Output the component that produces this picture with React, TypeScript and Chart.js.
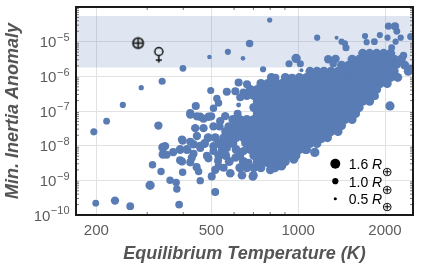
import React, { useEffect, useRef } from "react";
import { Chart, registerables } from "chart.js";

Chart.register(...registerables);

// ---------------- data ----------------
const X_MIN = 170;
const X_MAX = 2500;
const Y_MIN = 1e-10;
const Y_MAX = 1e-4;

const xTickValues = [200, 500, 1000, 2000];
const xMinorTickValues = [300, 400, 600, 700, 800, 900];
const yTickExponents = [-10, -9, -8, -7, -6, -5];

const shadedBand = [1.8e-6, 5.5e-5];

const earthPoint = [279, 9.1e-6];
const venusPoint = [329, 4.1e-6];

const legendRadii = [1.6, 1.0, 0.5];
const legendLabels = ["1.6", "1.0", "0.5"];

const cloudRadius = 1.45; // R_earth, typical planet in dense cloud

// [equilibrium temperature K, min. inertia anomaly, radius R_earth]
const planets: [number, number, number][] = [
  [399, 1.7e-6, 1.1], [338, 7.2e-7, 1.15], [286, 4.7e-7, 0.85], [247, 1.5e-7, 1.0],
  [217, 5.1e-8, 1.1], [196, 2.5e-8, 1.15], [328, 3.8e-8, 1.35], [340, 8.9e-9, 1.5],
  [340, 5.6e-9, 1.4], [313, 2.8e-9, 1.2], [335, 1.8e-9, 1.2], [307, 7.2e-10, 1.5],
  [199, 2.2e-10, 1.1], [232, 2.6e-10, 1.35], [262, 1.8e-10, 1.25], [387, 2.0e-10, 1.25],
  [360, 1.0e-9, 1.2], [378, 8.7e-10, 1.2], [380, 5.6e-10, 1.2], [458, 9.8e-10, 1.2],
  [398, 1.7e-9, 1.2], [516, 4.6e-10, 1.3], [502, 1.3e-9, 1.3], [452, 1.8e-9, 1.2],
  [516, 2.0e-9, 1.3], [582, 1.6e-9, 1.4], [639, 1.4e-9, 1.4], [530, 2.5e-9, 1.3],
  [489, 4.3e-9, 1.3], [552, 2.3e-9, 1.3], [697, 1.3e-9, 1.4], [528, 3.7e-9, 1.3],
  [875, 2.6e-9, 1.5], [786, 3.2e-9, 1.4], [1142, 6.4e-9, 1.5], [1205, 1.6e-8, 1.4],
  [398, 1.4e-8, 1.35], [369, 6.5e-9, 1.3], [396, 3.5e-9, 1.3], [423, 3.3e-9, 1.3],
  [434, 5.8e-9, 1.3], [445, 2.4e-9, 1.3], [458, 1.0e-8, 1.3], [483, 5.1e-9, 1.3],
  [423, 1.3e-8, 1.3], [350, 5.5e-9, 1.3], [390, 3.8e-9, 1.3], [428, 4.5e-9, 1.3],
  [458, 8.6e-9, 1.3], [509, 7.0e-9, 1.3], [566, 8.6e-9, 1.3], [606, 4.5e-9, 1.3],
  [647, 7.0e-9, 1.3], [673, 3.2e-9, 1.3], [498, 3.9e-7, 1.15], [442, 1.4e-7, 1.3],
  [523, 2.3e-7, 1.2], [530, 1.7e-7, 1.2], [509, 1.2e-7, 1.2], [566, 3.6e-7, 1.3],
  [606, 3.7e-7, 1.3], [622, 6.6e-7, 1.3], [647, 3.4e-7, 1.3], [630, 2.5e-7, 1.3],
  [665, 5.9e-7, 1.3], [622, 1.5e-7, 0.8], [617, 8.3e-8, 1.3], [423, 7.9e-8, 1.35],
  [458, 6.8e-8, 1.35], [489, 6.8e-8, 1.35], [440, 3.2e-8, 1.35], [470, 3.2e-8, 1.35],
  [509, 3.6e-8, 1.35], [537, 5.1e-8, 1.35], [559, 7.1e-8, 1.35], [574, 3.6e-8, 1.35],
  [534, 3.6e-8, 1.35], [446, 1.9e-8, 1.35], [396, 1.5e-8, 1.35], [434, 1.1e-8, 1.35],
  [346, 9.7e-9, 1.35], [551, 1.7e-8, 1.35], [589, 1.3e-8, 1.35], [639, 2.1e-8, 1.35],
  [656, 1.2e-8, 1.35], [509, 9.7e-9, 1.35], [493, 3.6e-6, 0.75], [571, 5.1e-6, 1.0],
  [644, 3.3e-6, 0.75], [679, 8.9e-6, 1.2], [797, 4.2e-5, 0.85], [756, 1.6e-6, 1.0],
  [930, 2.3e-6, 1.15], [984, 3.3e-6, 1.5], [1018, 2.3e-6, 1.15], [1027, 1.5e-6, 0.65],
  [1164, 1.3e-5, 1.0], [1271, 3.1e-6, 1.35], [1348, 3.2e-6, 1.35], [1323, 2.3e-6, 1.2],
  [1359, 1.3e-5, 0.65], [1414, 1.0e-5, 1.0], [1465, 6.7e-6, 1.15], [1452, 8.9e-6, 1.0],
  [1705, 1.45e-5, 1.0], [1727, 9.7e-6, 1.0], [1837, 1.0e-5, 1.1], [1919, 1.55e-5, 1.0],
  [2055, 2.8e-5, 1.15], [2166, 2.8e-5, 1.3], [2197, 2.0e-5, 1.1], [2040, 1.3e-5, 1.0],
  [2267, 1.3e-5, 1.0], [2176, 1.0e-5, 1.0], [2458, 1.4e-5, 1.2], [2109, 6.7e-6, 1.1],
  [2317, 4.0e-6, 1.2], [2197, 2.2e-6, 1.35], [2461, 1.65e-6, 1.35], [1313, 1.3e-6, 1.3],
  [1228, 1.4e-6, 1.3], [1164, 1.0e-6, 1.3], [834, 9.1e-7, 1.3], [953, 9.1e-7, 1.3],
  [1845, 2.7e-7, 1.3], [2080, 1.4e-7, 1.5], [700, 1.4e-9, 1.4], [801, 2.0e-9, 1.4],
  [880, 2.8e-9, 1.4], [966, 4.0e-9, 1.4], [1060, 7.7e-9, 1.4], [423, 8.8e-8, 1.3],
  [446, 7.0e-8, 1.3], [470, 6.0e-8, 1.3], [500, 7.0e-8, 1.3],
];

// dense cloud, read row by row: [min. inertia anomaly, temperatures K]
const cloudRows: [number, number[]][] = [
  [4.6e-6, [1673, 1769, 1871, 1979, 2093]],
  [3.1e-6, [1538, 1627, 1720, 1819, 1924, 2035, 2152, 2276]],
  [2.1e-6, [1414, 1496, 1582, 1673, 1769, 1871, 1979, 2093, 2341]],
  [1.4e-6, [1099, 1162, 1229, 1300, 1375, 1454, 1538, 1627, 1720, 1819, 1924, 2035, 2152, 2408]],
  [9.3e-7, [808, 903, 1010, 1069, 1130, 1195, 1264, 1337, 1414, 1496, 1582, 1673, 1769, 1871, 1979, 2093, 2213]],
  [6.2e-7, [743, 785, 831, 878, 929, 983, 1039, 1099, 1162, 1229, 1300, 1375, 1454, 1538, 1627, 1720, 1819, 1924, 2035]],
  [4.2e-7, [683, 722, 764, 808, 854, 903, 955, 1010, 1069, 1130, 1195, 1264, 1337, 1414, 1496, 1582, 1673, 1769, 1871]],
  [2.8e-7, [664, 702, 743, 785, 831, 878, 929, 983, 1039, 1099, 1162, 1229, 1300, 1375, 1454, 1538, 1627, 1720, 1819]],
  [1.9e-7, [722, 764, 808, 854, 903, 955, 1010, 1069, 1130, 1195, 1264, 1337, 1414, 1496, 1582, 1673, 1769]],
  [1.26e-7, [702, 743, 785, 831, 878, 929, 983, 1039, 1099, 1162, 1229, 1300, 1375, 1454, 1538, 1627]],
  [8.5e-8, [722, 764, 808, 854, 903, 955, 1010, 1069, 1130, 1195, 1264, 1337, 1414, 1496, 1582]],
  [5.7e-8, [594, 628, 664, 702, 743, 785, 831, 878, 929, 983, 1039, 1099, 1162, 1229, 1300, 1375, 1454, 1538]],
  [3.8e-8, [610, 646, 683, 722, 764, 808, 854, 903, 955, 1010, 1069, 1130, 1195, 1264, 1337, 1414]],
  [2.56e-8, [561, 594, 628, 664, 702, 743, 785, 831, 878, 929, 983, 1039, 1099, 1162, 1229, 1300, 1375]],
  [1.7e-8, [488, 516, 577, 610, 646, 683, 722, 764, 808, 854, 903, 955, 1010, 1069, 1130, 1195, 1264]],
  [1.15e-8, [474, 531, 561, 594, 664, 702, 743, 785, 831, 878, 929, 983, 1039, 1099, 1162]],
  [7.7e-9, [390, 412, 546, 610, 683, 722, 764, 808, 854, 903, 955, 1010, 1069]],
  [5.2e-9, [531, 561, 628, 702, 743, 785, 831, 878, 929, 983]],
  [3.5e-9, [577, 646, 722, 764, 808, 854, 903]],
  [2.3e-9, [628, 664, 702, 743, 831]],
];

// ---------------- styling ----------------
const PX_PER_RE = 3.1;
const POINT_COLOR = "rgb(89,124,181)";
const FONT = "'Liberation Sans', Arial, sans-serif";

function makeEarthGlyph(): HTMLCanvasElement {
  const c = document.createElement("canvas");
  c.width = 15;
  c.height = 15;
  const g = c.getContext("2d")!;
  g.strokeStyle = "#111";
  g.lineWidth = 1.6;
  g.beginPath();
  g.arc(7.5, 7.5, 5.2, 0, Math.PI * 2);
  g.stroke();
  g.beginPath();
  g.moveTo(7.5, 2.3);
  g.lineTo(7.5, 12.7);
  g.moveTo(2.3, 7.5);
  g.lineTo(12.7, 7.5);
  g.stroke();
  return c;
}

function makeVenusGlyph(): HTMLCanvasElement {
  const c = document.createElement("canvas");
  c.width = 14;
  c.height = 20;
  const g = c.getContext("2d")!;
  g.strokeStyle = "#111";
  g.lineWidth = 1.5;
  g.beginPath();
  g.arc(7, 6.5, 4, 0, Math.PI * 2);
  g.stroke();
  g.beginPath();
  g.moveTo(7, 10.5);
  g.lineTo(7, 17.5);
  g.moveTo(4, 15);
  g.lineTo(10, 15);
  g.stroke();
  return c;
}

const decorPlugin = {
  id: "decor",
  beforeDatasetsDraw(chart: any) {
    const { ctx, chartArea: ca, scales } = chart;
    const y = scales.y;
    const yTop = y.getPixelForValue(shadedBand[1]);
    const yBot = y.getPixelForValue(shadedBand[0]);
    ctx.save();
    ctx.fillStyle = "rgba(76,114,176,0.18)";
    ctx.fillRect(ca.left, yTop, ca.right - ca.left, yBot - yTop);
    ctx.restore();
  },
  afterDatasetsDraw(chart: any) {
    const { ctx, chartArea: ca, scales } = chart;
    ctx.save();
    // minor ticks
    ctx.strokeStyle = "#555";
    ctx.lineWidth = 0.8;
    ctx.beginPath();
    xMinorTickValues.forEach((v) => {
      const px = scales.x.getPixelForValue(v);
      ctx.moveTo(px, ca.bottom);
      ctx.lineTo(px, ca.bottom - 3);
      ctx.moveTo(px, ca.top);
      ctx.lineTo(px, ca.top + 3);
    });
    yTickExponents.forEach((e) => {
      for (let k = 2; k <= 9; k++) {
        const py = scales.y.getPixelForValue(k * Math.pow(10, e));
        if (py < ca.top) continue;
        ctx.moveTo(ca.left, py);
        ctx.lineTo(ca.left + 3, py);
        ctx.moveTo(ca.right, py);
        ctx.lineTo(ca.right - 3, py);
      }
    });
    ctx.stroke();
    // frame
    ctx.strokeStyle = "#1a1a1a";
    ctx.lineWidth = 2;
    ctx.strokeRect(ca.left, ca.top, ca.right - ca.left, ca.bottom - ca.top);
    ctx.restore();
  },
  afterDraw(chart: any) {
    const { ctx, chartArea: ca, scales } = chart;
    ctx.save();
    // y tick labels: 10^e
    ctx.fillStyle = "#5c5c5c";
    ctx.textBaseline = "middle";
    ctx.textAlign = "left";
    const right = ca.left - 7;
    yTickExponents.forEach((e) => {
      const py = scales.y.getPixelForValue(Math.pow(10, e));
      const sup = "\u2212" + String(Math.abs(e));
      ctx.font = `15px ${FONT}`;
      const wBase = ctx.measureText("10").width;
      ctx.font = `11px ${FONT}`;
      const wSup = ctx.measureText(sup).width;
      const x0 = right - wBase - wSup;
      ctx.font = `15px ${FONT}`;
      ctx.fillText("10", x0, py + 1.5);
      ctx.font = `11px ${FONT}`;
      ctx.fillText(sup, x0 + wBase + 0.5, py - 3.8);
    });
    // size legend
    ctx.fillStyle = "#000";
    legendRadii.forEach((r, i) => {
      const cx = ca.right - 77.7;
      const cy = ca.bottom - 51.3 + i * 17.5;
      ctx.beginPath();
      ctx.arc(cx, cy, r * PX_PER_RE, 0, Math.PI * 2);
      ctx.fill();
      let tx = cx + 13.4;
      const label = legendLabels[i] + " ";
      ctx.font = `14px ${FONT}`;
      ctx.fillText(label, tx, cy + 1.5);
      tx += ctx.measureText(label).width;
      ctx.font = `italic 14px ${FONT}`;
      ctx.fillText("R", tx, cy + 1.5);
      tx += ctx.measureText("R").width;
      ctx.font = `13px 'DejaVu Sans', sans-serif`;
      ctx.fillText("\u2295", tx - 0.5, cy + 9);
    });
    ctx.restore();
  },
};

export default function App() {
  const ref = useRef<HTMLCanvasElement>(null);

  useEffect(() => {
    const canvas = ref.current;
    if (!canvas) return;

    const points: { x: number; y: number }[] = [];
    const radii: number[] = [];
    cloudRows.forEach(([anom, temps]) => {
      temps.forEach((t) => {
        points.push({ x: t, y: anom });
        radii.push(cloudRadius * PX_PER_RE);
      });
    });
    planets.forEach(([t, anom, r]) => {
      points.push({ x: t, y: anom });
      radii.push(r * PX_PER_RE);
    });

    const chart = new Chart(canvas, {
      type: "scatter",
      data: {
        datasets: [
          {
            label: "planets",
            data: points,
            backgroundColor: POINT_COLOR,
            borderWidth: 0,
            pointRadius: radii,
            pointHoverRadius: radii,
          },
          {
            label: "Earth",
            data: [{ x: earthPoint[0], y: earthPoint[1] }],
            pointStyle: makeEarthGlyph() as any,
            pointRadius: 6,
          },
          {
            label: "Venus",
            data: [{ x: venusPoint[0], y: venusPoint[1] }],
            pointStyle: makeVenusGlyph() as any,
            pointRadius: 6,
          },
        ],
      },
      options: {
        responsive: false,
        animation: false,
        events: [],
        layout: { padding: { top: 7, right: 9, left: 0, bottom: 0 } },
        plugins: {
          legend: { display: false },
          tooltip: { enabled: false },
        },
        scales: {
          x: {
            type: "logarithmic",
            position: "bottom",
            min: X_MIN,
            max: X_MAX,
            afterBuildTicks: (s: any) => {
              s.ticks = xTickValues.map((v) => ({ value: v }));
            },
            afterFit: (s: any) => {
              s.height = 57;
            },
            grid: { color: "#e2e2e2", lineWidth: 1, drawTicks: false },
            border: { display: false },
            ticks: {
              padding: 7,
              color: "#5c5c5c",
              font: { family: FONT, size: 15 },
              maxRotation: 0,
              autoSkip: false,
              callback: (v: any) => String(v),
            },
            title: {
              display: true,
              text: "Equilibrium Temperature (K)",
              color: "#555",
              font: { family: FONT, size: 18, weight: "bold", style: "italic" },
              padding: { top: 0, bottom: 7 },
            },
          },
          y: {
            type: "logarithmic",
            min: Y_MIN,
            max: Y_MAX,
            afterBuildTicks: (s: any) => {
              s.ticks = yTickExponents.map((e) => ({ value: Math.pow(10, e) }));
            },
            afterFit: (s: any) => {
              s.width = 76;
            },
            grid: { color: "#e2e2e2", lineWidth: 1, drawTicks: false },
            border: { display: false },
            ticks: { display: false },
            title: {
              display: true,
              text: "Min. Inertia Anomaly",
              color: "#555",
              font: { family: FONT, size: 18, weight: "bold", style: "italic" },
              padding: { top: 2, bottom: 0 },
            },
          },
        },
      } as any,
      plugins: [decorPlugin],
    });

    return () => chart.destroy();
  }, []);

  return (
    <div style={{ position: "fixed", left: 0, top: 0, width: 422, height: 272, background: "#fff" }}>
      <canvas ref={ref} width={422} height={272} style={{ width: 422, height: 272, display: "block" }} />
    </div>
  );
}
